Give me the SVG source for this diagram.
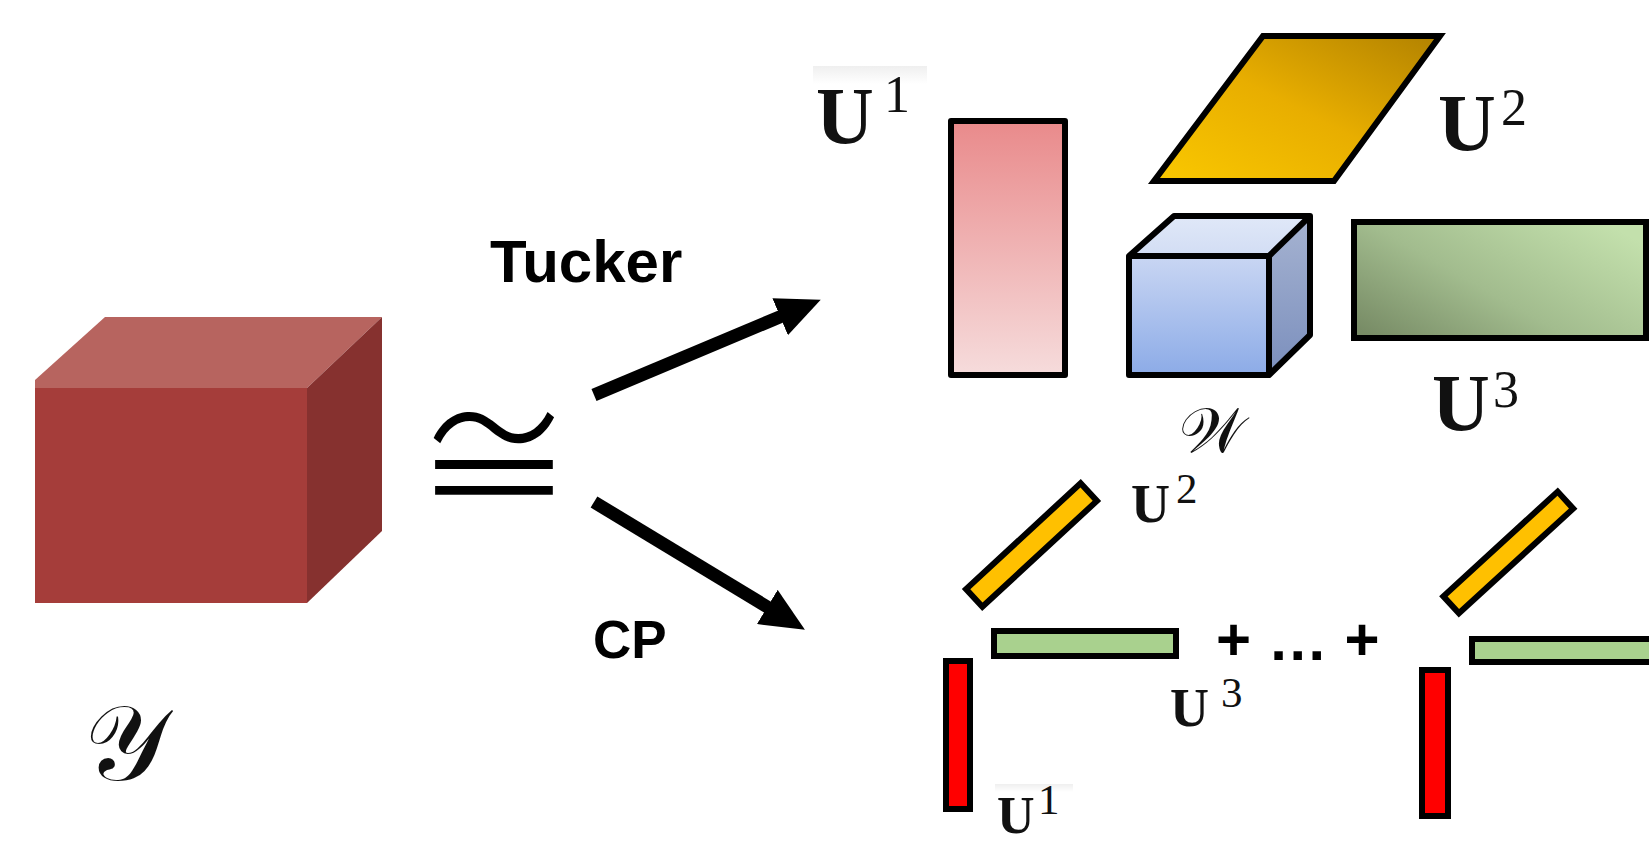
<svg xmlns="http://www.w3.org/2000/svg" width="1649" height="844" viewBox="0 0 1649 844">
<style>
.lbl{font-family:"Liberation Serif","DejaVu Serif",serif;fill:#111}
.ub{font-weight:bold}
.big{font-size:80px}
.bsup{font-size:52px;font-weight:normal}
.sm{font-size:54px}
.ssup{font-size:43px;font-weight:normal}
.word{font-family:"Liberation Sans","Noto Sans",sans-serif;font-weight:bold;fill:#000}
.ol{stroke:#000;stroke-width:6;stroke-linejoin:round}
.bar{stroke:#000;stroke-width:6}
.arrow{stroke:#000;stroke-width:13;fill:none;marker-end:url(#head)}
.script{font-family:"DejaVu Sans","Noto Sans","DejaVu Serif",serif;fill:#111}
</style>
<defs>
<marker id="head" viewBox="0 0 44 40" refX="2" refY="20" markerWidth="44" markerHeight="40" markerUnits="userSpaceOnUse" orient="auto">
<path d="M0,0 L44,20 L0,40 Z" fill="#000"/>
</marker>
<linearGradient id="gPink" x1="0" y1="0" x2="0" y2="1">
<stop offset="0" stop-color="#E98A8B"/><stop offset="1" stop-color="#F6DCDC"/>
</linearGradient>
<linearGradient id="gGold" x1="0" y1="1" x2="1" y2="0">
<stop offset="0" stop-color="#FAC800"/><stop offset="0.5" stop-color="#E8AE00"/><stop offset="1" stop-color="#B28200"/>
</linearGradient>
<linearGradient id="gBlueF" x1="0" y1="0" x2="0" y2="1">
<stop offset="0" stop-color="#C9D6F3"/><stop offset="1" stop-color="#8CABE7"/>
</linearGradient>
<linearGradient id="gBlueT" x1="0" y1="0" x2="0" y2="1">
<stop offset="0" stop-color="#E0E8F8"/><stop offset="1" stop-color="#D2DDF4"/>
</linearGradient>
<linearGradient id="gBlueR" x1="0" y1="0" x2="0" y2="1">
<stop offset="0" stop-color="#A6B3D1"/><stop offset="1" stop-color="#7B8FBD"/>
</linearGradient>
<linearGradient id="gGreen" x1="0" y1="0.9" x2="1" y2="0.2">
<stop offset="0" stop-color="#788C66"/><stop offset="0.45" stop-color="#A2BC8E"/><stop offset="1" stop-color="#C3E0AC"/>
</linearGradient>
<linearGradient id="gBand" x1="0" y1="0" x2="0" y2="1">
<stop offset="0" stop-color="#EFEFEF"/><stop offset="1" stop-color="#FFFFFF"/>
</linearGradient>
</defs>

<g id="tensor-Y">
<polygon points="35,388 35,380 105,317 382,317 307,388" fill="#B7645F"/>
<polygon points="307,388 382,317 382,531 307,603" fill="#86312F"/>
<rect x="35" y="388" width="272" height="215" fill="#A53D3A"/>
<text class="script" x="84" y="780" font-size="106">𝒴</text>
</g>

<g id="approx">
<text transform="translate(494,0) scale(1,1.15)" x="0" y="452" text-anchor="middle" font-family="Noto Sans CJK JP, DejaVu Sans, sans-serif" font-weight="300" font-size="160" fill="#000">≅</text>
</g>

<g id="connectors">
<line class="arrow" x1="594" y1="395" x2="782" y2="316"/>
<line class="arrow" x1="594" y1="502" x2="769" y2="608"/>
<text class="word" x="490" y="282" font-size="60">Tucker</text>
<text class="word" x="593" y="658" font-size="53">CP</text>
</g>

<g id="tucker-U1">
<rect x="813" y="66" width="114" height="18" fill="url(#gBand)"/>
<rect class="ol" x="951" y="121" width="114" height="254" fill="url(#gPink)"/>
<text class="lbl ub big" x="816" y="143">U<tspan class="bsup" x="884" y="112">1</tspan></text>
</g>

<g id="tucker-U2">
<polygon class="ol" points="1263,36 1440,36 1334,181 1154,181" fill="url(#gGold)" style="stroke-linejoin:miter"/>
<text class="lbl ub big" x="1438" y="150">U<tspan class="bsup" x="1501" y="125">2</tspan></text>
</g>

<g id="core-W">
<polygon points="1129,256 1174,216 1310,216 1269,256" fill="url(#gBlueT)"/>
<polygon points="1269,256 1310,216 1310,335 1269,375" fill="url(#gBlueR)"/>
<rect x="1129" y="256" width="140" height="119" fill="url(#gBlueF)"/>
<path class="ol" fill="none" d="M1129,256 L1174,216 L1310,216 L1310,335 L1269,375 L1129,375 Z M1129,256 L1269,256 L1310,216 M1269,256 L1269,375"/>
<text class="script" x="1179" y="452" font-size="63">𝒲</text>
</g>

<g id="tucker-U3">
<rect class="ol" x="1354" y="222" width="292" height="116" fill="url(#gGreen)" style="stroke-linejoin:miter"/>
<text class="lbl ub big" x="1432" y="430">U<tspan class="bsup" x="1493" y="407">3</tspan></text>
</g>

<g id="cp-term1">
<rect class="bar" x="-78" y="-12" width="156" height="24" fill="#FFC000" transform="translate(1031.5,545) rotate(-42.75)"/>
<rect class="bar" x="994" y="631" width="182" height="25" fill="#A9D18E"/>
<rect class="bar" x="946" y="661" width="24" height="148" fill="#FF0000"/>
<text class="lbl ub sm" x="1131" y="522">U<tspan class="ssup" x="1176" y="503">2</tspan></text>
<text class="lbl ub sm" x="1170" y="726">U<tspan class="ssup" x="1221" y="707">3</tspan></text>
<rect x="995" y="784" width="78" height="8" fill="url(#gBand)"/>
<text class="lbl ub" font-size="52" x="997" y="833">U<tspan class="ssup" font-size="42" x="1038" y="814">1</tspan></text>
</g>

<g id="plus-dots">
<text class="word" x="1216" y="660" font-size="60">+ … +</text>
</g>

<g id="cp-termR">
<rect class="bar" x="-78" y="-12" width="155" height="23" fill="#FFC000" transform="translate(1509,552.5) rotate(-42.5)"/>
<rect class="bar" x="1472" y="639" width="180" height="23" fill="#A9D18E"/>
<rect class="bar" x="1422" y="670" width="26" height="146" fill="#FF0000"/>
</g>
</svg>
